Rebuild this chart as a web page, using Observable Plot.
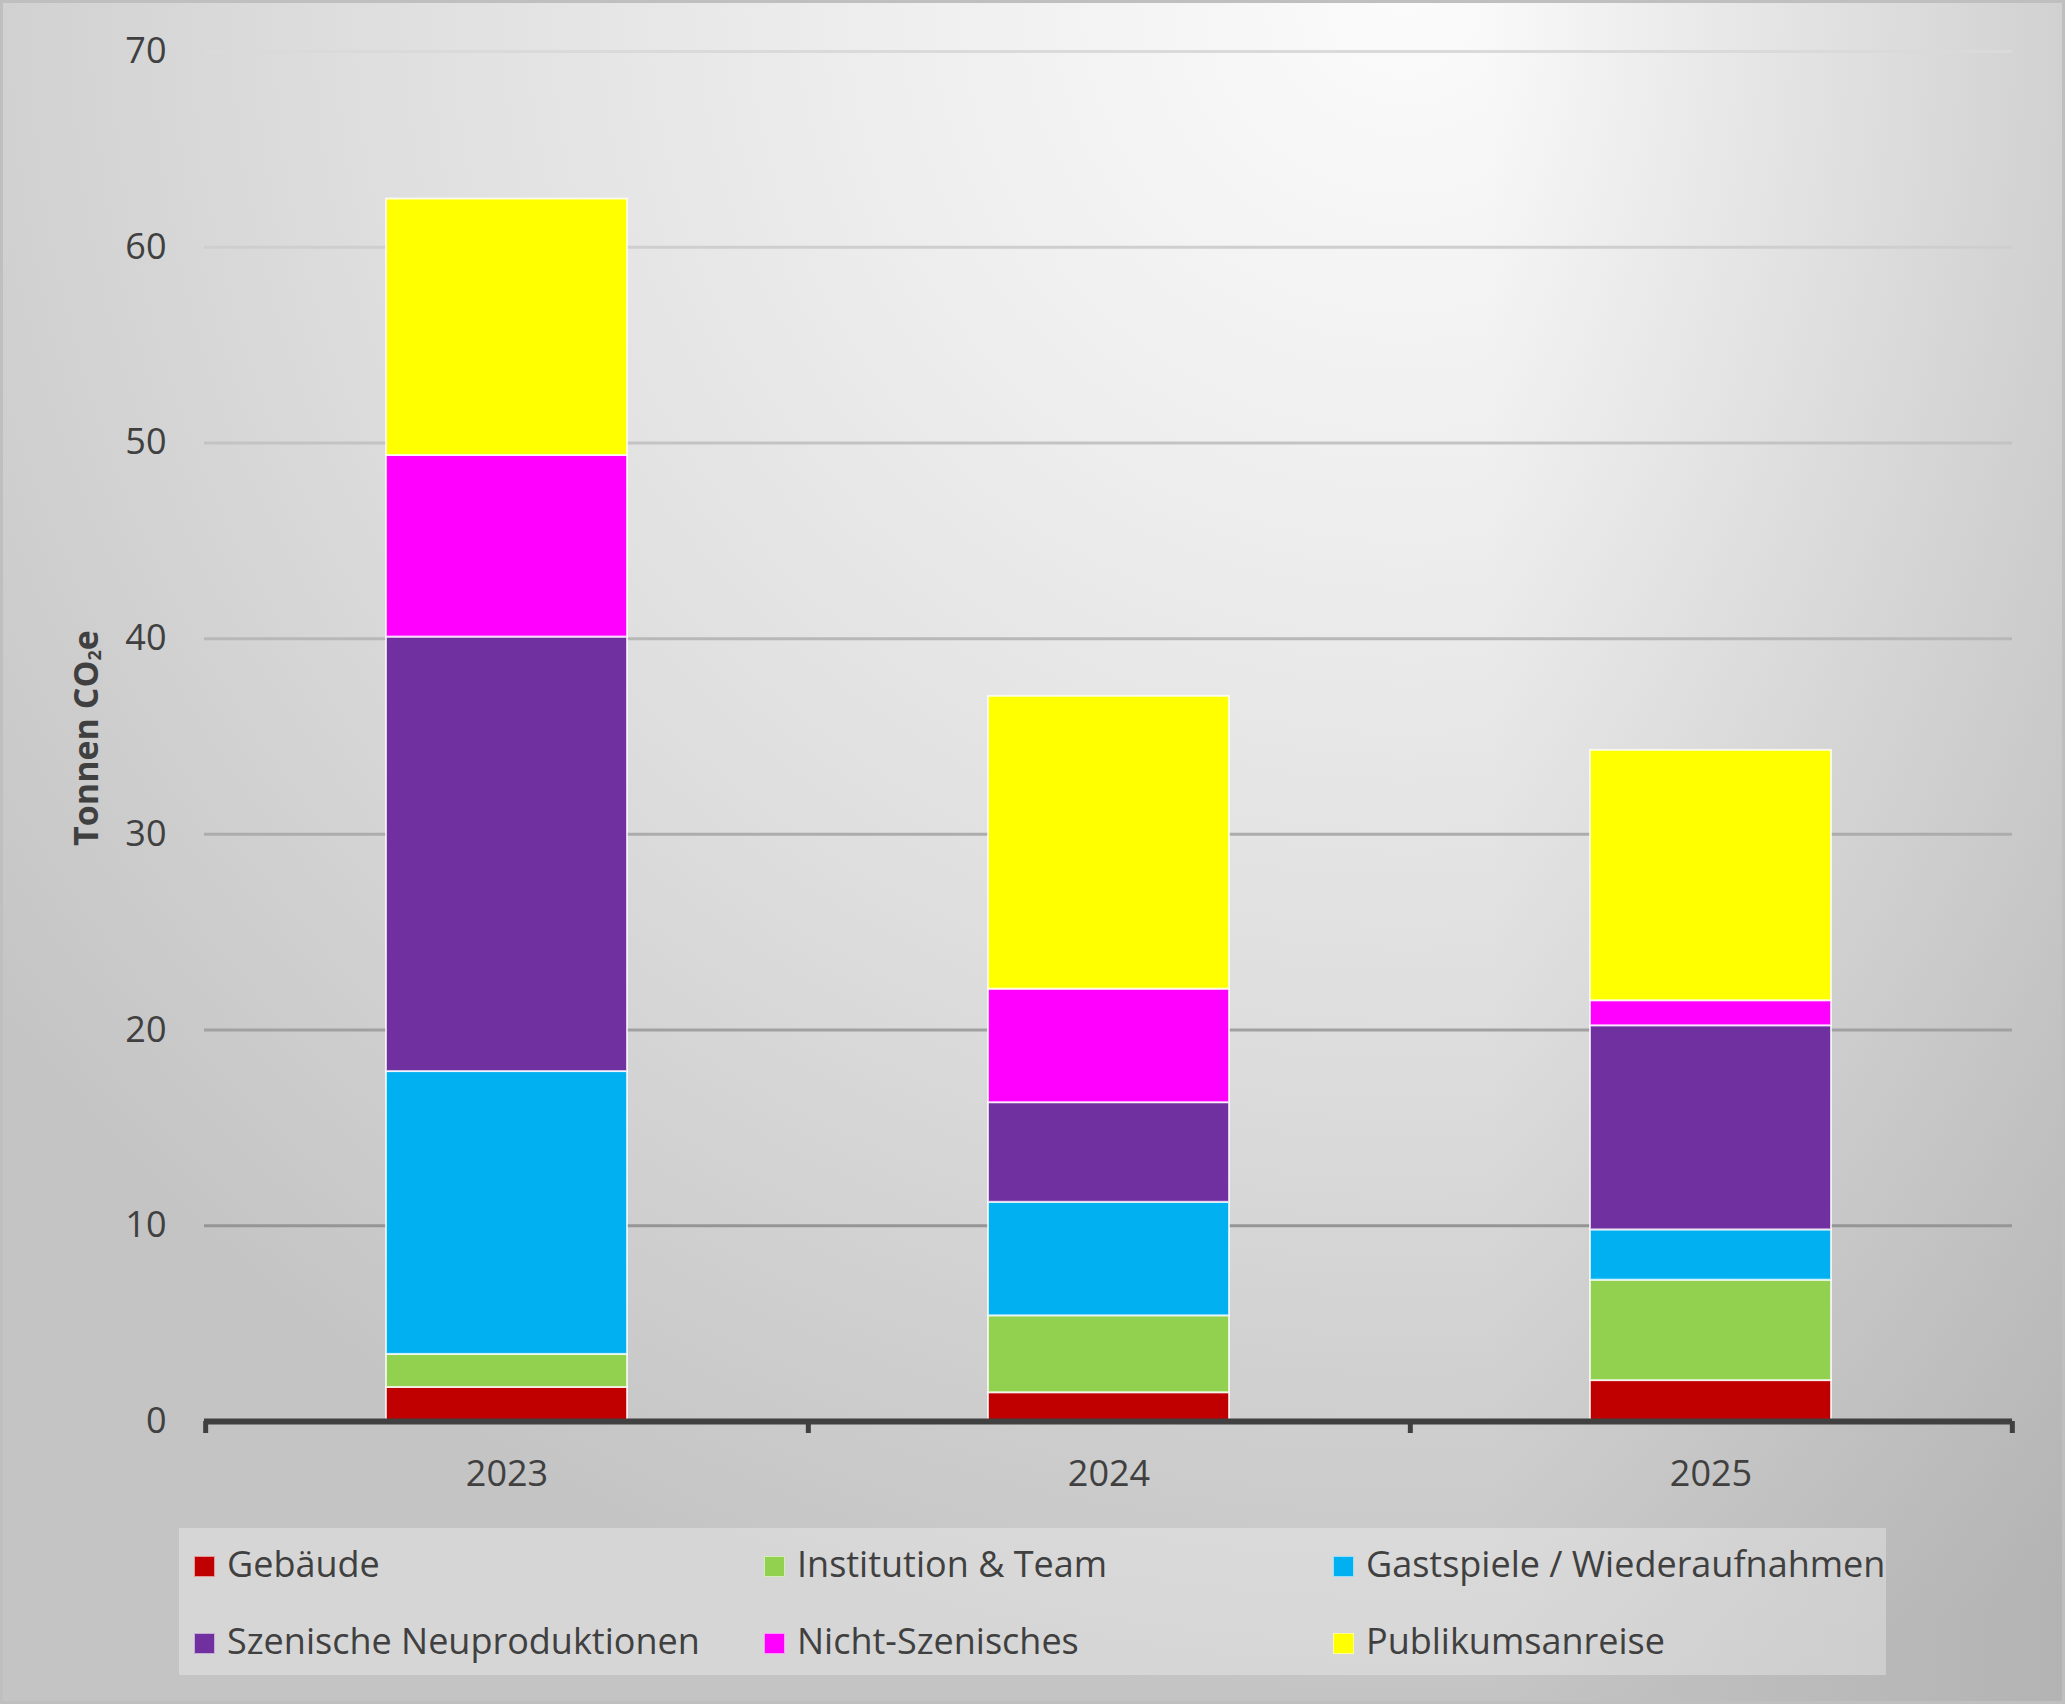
<!DOCTYPE html>
<html>
<head>
<meta charset="utf-8">
<script src="https://cdn.jsdelivr.net/npm/d3@7"></script>
<script src="https://cdn.jsdelivr.net/npm/@observablehq/plot@0.6"></script>
<style>
  body { margin: 0; }
  #chart {
    position: relative; width: 2065px; height: 1704px; overflow: hidden;
    font-family: "Open Sans", sans-serif; color: #404040;
    background:
      linear-gradient(to left, rgba(120,120,120,0.22) 0%, rgba(120,120,120,0) 28%),
      radial-gradient(ellipse 85% 100% at 68% 0%, #fbfbfb 0%, #eeeeee 30%, #dedede 60%, #c4c4c4 100%);
  }
  #frame { position: absolute; left: 0; top: 0; width: 2065px; height: 1704px; box-sizing: border-box;
           border: 3px solid #bfbfbf; pointer-events: none; }
  #plot { position: absolute; left: 0; top: 0; }
  #legend { position: absolute; left: 179px; top: 1528px; width: 1707px; height: 147px;
            background: rgba(255,255,255,0.3); }
  .item { position: absolute; display: flex; align-items: center; font-size: 36px; line-height: 36px;
          white-space: nowrap; color: #404040; }
  .sw { width: 19px; height: 19px; border: 1px solid rgba(255,255,255,0.6); margin-right: 12px; margin-top: 4px; }
</style>
</head>
<body>
<svg width="0" height="0" style="position:absolute">
  <defs>
    <linearGradient id="gridGrad" gradientUnits="userSpaceOnUse" x1="0" y1="51" x2="0" y2="1421">
      <stop offset="0" stop-color="#dadada"/>
      <stop offset="1" stop-color="#8a8a8a"/>
    </linearGradient>
  </defs>
</svg>
<div id="chart">
  <div id="plot"></div>
  <div id="legend"></div>
  <div id="frame"></div>
</div>
<script>
// Categories and series
const years = ["2023", "2024", "2025"];
const series = ["Gebäude", "Institution & Team", "Gastspiele / Wiederaufnahmen",
                "Szenische Neuproduktionen", "Nicht-Szenisches", "Publikumsanreise"];
const colors = ["#C00000", "#92D050", "#00B0F0", "#7030A0", "#FF00FF", "#FFFF00"];

// Values (Tonnen CO2e) per series, by year
const gebaeude      = [1.74, 1.47, 2.09];
const institution   = [1.69, 3.93, 5.13];
const gastspiele    = [14.45, 5.80, 2.57];
const szenische     = [22.20, 5.09, 10.43];
const nichtSzenisch = [9.28, 5.80, 1.28];
const publikum      = [13.10, 14.96, 12.79];

const yTicks = [0, 10, 20, 30, 40, 50, 60, 70];

const seriesValues = [gebaeude, institution, gastspiele, szenische, nichtSzenisch, publikum];
const rows = [];
years.forEach((yr, i) => series.forEach((s, j) => rows.push({year: yr, series: s, value: seriesValues[j][i]})));

const W = 2065, H = 1520;
const mL = 204, mR = 53, mT = 51, mB = 99;
const step = (W - mL - mR) / years.length;

const plot = Plot.plot({
  width: W, height: H,
  marginLeft: mL, marginRight: mR, marginTop: mT, marginBottom: mB,
  style: {background: "transparent", fontFamily: "'Open Sans', sans-serif", fontSize: "36px", color: "#404040", overflow: "visible"},
  x: {domain: years, paddingInner: 0.6, paddingOuter: 0.3, label: null},
  y: {domain: [0, 70], label: null},
  color: {domain: series, range: colors},
  marks: [
    Plot.ruleY(yTicks.filter(d => d > 0), {stroke: "url(#gridGrad)", strokeWidth: 3}),
    Plot.barY(rows, {x: "year", y: "value", fill: "series", stroke: "#ffffff", strokeOpacity: 0.75, strokeWidth: 2}),
    Plot.ruleY([0], {stroke: "#404040", strokeWidth: 6}),
    Plot.ruleX(years.slice(0, 1), {x: d => d, y1: 0, y2: 0, insetBottom: -12, dx: -step / 2, stroke: "#404040", strokeWidth: 5}),
    Plot.ruleX(years, {x: d => d, y1: 0, y2: 0, insetBottom: -12, dx: step / 2, stroke: "#404040", strokeWidth: 5}),
    Plot.axisY({ticks: yTicks, tickSize: 0, tickPadding: 38, fontSize: 36, color: "#404040", label: null}),
    Plot.axisX({tickSize: 0, tickPadding: 39, fontSize: 36, color: "#404040", label: null})
  ]
});
document.getElementById("plot").appendChild(plot);

// Y axis title with subscript
const t = d3.select(plot).append("text")
  .attr("transform", "translate(98,738) rotate(-90)")
  .attr("text-anchor", "middle")
  .attr("font-family", "'Open Sans', sans-serif")
  .attr("font-weight", 700)
  .attr("font-size", 34)
  .attr("fill", "#404040");
t.append("tspan").text("Tonnen CO");
t.append("tspan").attr("font-size", 18).attr("dy", 3).text("2");
t.append("tspan").attr("dy", -3).text("e");

// Legend
const legend = d3.select("#legend");
const colLeft = [15, 585, 1154];
const rowTop = [18, 95];
series.forEach((s, i) => {
  const it = legend.append("div").attr("class", "item")
    .style("left", colLeft[i % 3] + "px")
    .style("top", rowTop[Math.floor(i / 3)] + "px");
  it.append("div").attr("class", "sw").style("background", colors[i]);
  it.append("span").text(s);
});
</script>
</body>
</html>
